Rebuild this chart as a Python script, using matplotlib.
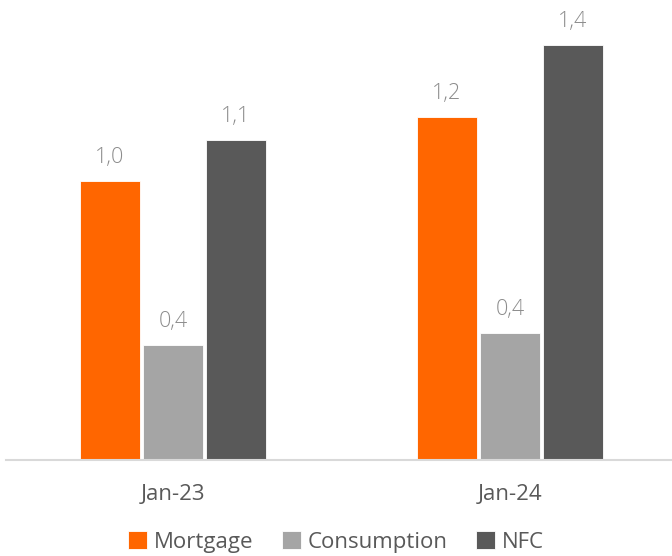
import matplotlib.pyplot as plt
import numpy as np

plt.rcParams['font.family'] = ['Open Sans', 'DejaVu Sans']

periods = ['Jan-23', 'Jan-24']
series = ['Mortgage', 'Consumption', 'NFC']
mortgage = [0.97, 1.19]
consumption = [0.40, 0.44]
nfc = [1.11, 1.44]
colors = ['#FF6600', '#A5A5A5', '#595959']

fig = plt.figure(figsize=(6.72, 5.56), dpi=100)
ax = fig.add_axes([0.009, 0.1727, 0.991, 0.777])

x = np.arange(len(periods))
width = 0.178
step = 0.187
for i, (name, vals) in enumerate(zip(series, [mortgage, consumption, nfc])):
    bars = ax.bar(x + (i - 1) * step, vals, width, color=colors[i], label=name,
                  edgecolor='white', linewidth=0.6)
    for b, v in zip(bars, vals):
        ax.text(b.get_x() + b.get_width() / 2, v + 0.045, f'{v:.1f}'.replace('.', ','),
                ha='center', va='bottom', fontsize=15.5, color='#8C8C8C', fontweight='light')

ax.set_xlim(-0.4955, 1.4807)
ax.set_ylim(0, 1.5)
ax.set_xticks(x)
ax.set_xticklabels(periods, fontsize=16, color='#595959')
ax.tick_params(axis='x', length=0, pad=17)
ax.set_yticks([])
for s in ['top', 'right', 'left']:
    ax.spines[s].set_visible(False)
ax.spines['bottom'].set_color('#D9D9D9')
ax.spines['bottom'].set_linewidth(1.5)

fig.legend(loc='lower center', bbox_to_anchor=(0.5, -0.03), ncol=3, frameon=False,
           fontsize=16, labelcolor='#595959', handlelength=0.85, handleheight=0.85,
           handletextpad=0.3, columnspacing=1.3)

fig.savefig('out.png', dpi=100)
